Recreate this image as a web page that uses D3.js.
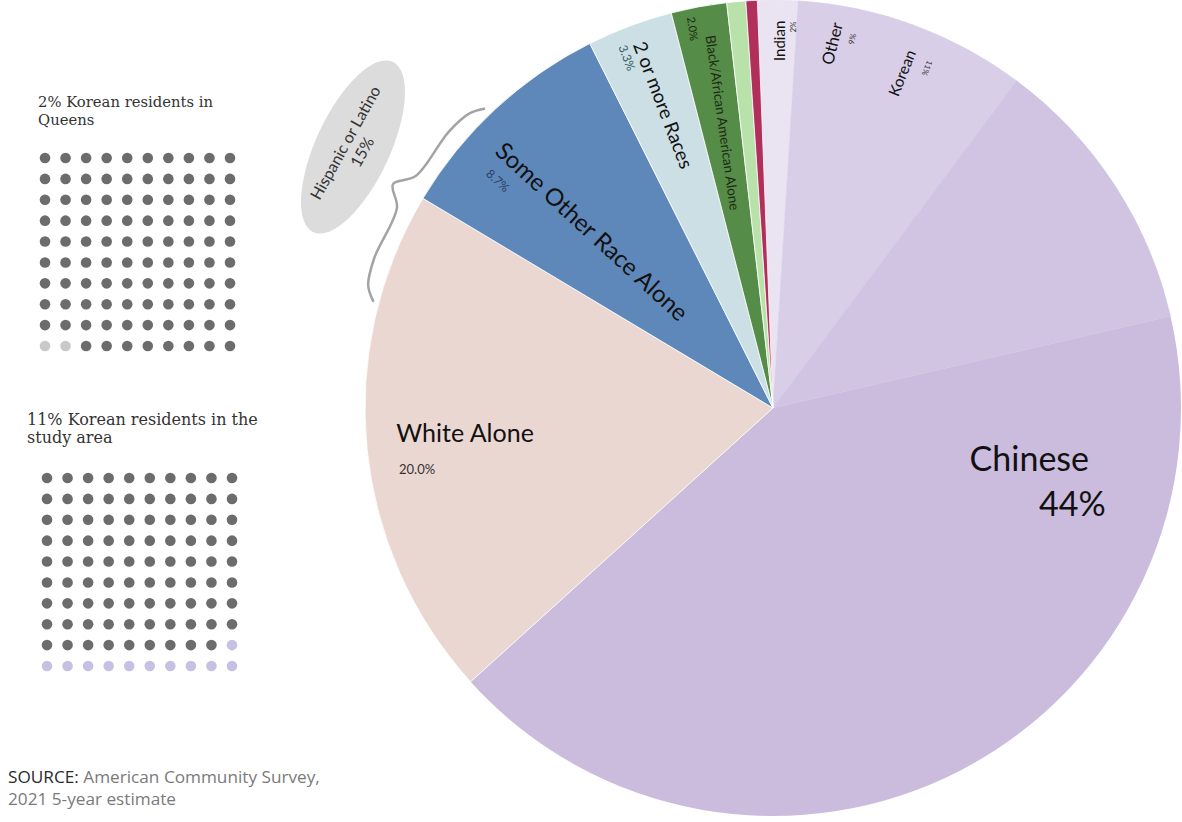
<!DOCTYPE html>
<html>
<head>
<meta charset="utf-8">
<script src="https://cdn.jsdelivr.net/npm/d3@7"></script>
<style>
  body { margin: 0; background: #fff; }
  svg { display: block; }
</style>
</head>
<body>
<svg id="chart" width="1182" height="822"></svg>
<script>
// Race / ethnicity shares of the study area (percent of total)
const categories = ["Indian", "Other", "Korean", "Chinese", "White Alone", "Some Other Race Alone",
  "2 or more Races", "Black/African American Alone", "American Indian Alone", "Native Hawaiian Alone"];
const values = [1.6, 9.2, 11.2, 41.9, 20.3, 9.0, 3.4, 2.2, 0.75, 0.45];
const sliceColors = ["#eae3f1", "#d8cee8", "#d0c4e2", "#cbbcde", "#ebd7d2", "#5f88ba",
  "#cbdfe5", "#558c47", "#b9e2aa", "#b02f5b"];

// waffle grids: 100 residents each, highlighted cells are Korean residents
const queensKorean = [90, 91];
const studyKorean = [89, 90, 91, 92, 93, 94, 95, 96, 97, 98, 99];

const svg = d3.select("#chart");
const cx = 773, cy = 408, R = 408;
const rad = d => d * Math.PI / 180;

// ---------- pie ----------
const startDeg = -2.2;
const pie = d3.pie()
  .sort(null)
  .value(d => d.value)
  .startAngle(rad(startDeg))
  .endAngle(rad(startDeg + 360));

const arc = d3.arc().innerRadius(0).outerRadius(R);

const data = categories.map((c, i) => ({ name: c, value: values[i], color: sliceColors[i] }));

const g = svg.append("g").attr("transform", `translate(${cx},${cy})`);

g.selectAll("path.slice")
  .data(pie(data))
  .enter()
  .append("path")
  .attr("class", "slice")
  .attr("d", arc)
  .attr("fill", d => d.data.color)
  .attr("stroke", d => (d.index < 3 ? d.data.color : d.index === 3 ? "none" : "#fff"))
  .attr("stroke-width", d => (d.index < 3 ? 0.5 : 0.8));

// labels inside the pie (angle in degrees from 12 o'clock, radius as share of R)
const sans = "Lato, 'Open Sans', sans-serif";
const labels = [
  { text: "Some Other Race Alone", angle: 314.5, r: 0.62, rot: 42.5, size: 24, fill: "#111" },
  { text: "8.7%", angle: 309.6, r: 0.875, rot: 42.5, size: 12, fill: "#2b3d63" },
  { text: "2 or more Races", angle: 340.2, r: 0.79, rot: 69, size: 19, fill: "#111" },
  { text: "3.3%", angle: 337.4, r: 0.93, rot: 69, size: 12, fill: "#3a5a66" },
  { text: "Black/African American Alone", angle: 350.0, r: 0.71, rot: 82, size: 13.5, fill: "#1d2a14" },
  { text: "2.0%", angle: 348.1, r: 0.95, rot: 82, size: 11, fill: "#1d2a14" },
  { text: "Indian", angle: 0.9, r: 0.9, rot: -90, size: 15, fill: "#111" },
  { text: "2%", angle: 3.0, r: 0.935, rot: -90, size: 8, fill: "#333" },
  { text: "Other", angle: 9.2, r: 0.905, rot: -76, size: 16.5, fill: "#111" },
  { text: "9%", angle: 12.1, r: 0.925, rot: -76, size: 8, fill: "#333" },
  { text: "Korean", angle: 21.0, r: 0.88, rot: -68, size: 15.5, fill: "#111" },
  { text: "11%", angle: 24.4, r: 0.915, rot: 112, size: 8, fill: "#333" },
  { text: "White Alone", angle: 265.5, r: 0.757, rot: 0, size: 25, fill: "#111" },
  { text: "20.0%", angle: 260.3, r: 0.885, rot: 0, size: 13, fill: "#333" },
  { text: "Chinese", angle: 101, r: 0.64, rot: 0, size: 34, fill: "#111" },
  { text: "44%", angle: 107.6, r: 0.77, rot: 0, size: 34, fill: "#111" }
];

g.selectAll("text.lbl")
  .data(labels)
  .enter()
  .append("text")
  .attr("class", "lbl")
  .attr("transform", d => {
    const p = d3.pointRadial(rad(d.angle), d.r * R);
    return `translate(${p[0]},${p[1]}) rotate(${d.rot})`;
  })
  .attr("text-anchor", "middle")
  .attr("dominant-baseline", "central")
  .attr("font-family", sans)
  .attr("font-size", d => d.size)
  .attr("fill", d => d.fill)
  .text(d => d.text);

// ---------- Hispanic or Latino brace + bubble ----------
const braceFrom = 285, braceTo = 316, braceR = R + 6;
const braceProfile = [[0, 0], [0.06, 9], [0.18, 12], [0.42, 12], [0.5, 27], [0.58, 12], [0.82, 12], [0.94, 9], [1, 2]];
const braceLine = d3.line().curve(d3.curveCatmullRom);
g.append("path")
  .attr("d", braceLine(braceProfile.map(([s, o]) =>
    d3.pointRadial(rad(braceFrom + s * (braceTo - braceFrom)), braceR + o))))
  .attr("fill", "none")
  .attr("stroke", "#a3a3a3")
  .attr("stroke-width", 2.5)
  .attr("stroke-linecap", "round");

const bubble = svg.append("g").attr("transform", "translate(353,147) rotate(25)");
bubble.append("ellipse")
  .attr("rx", 37)
  .attr("ry", 94)
  .attr("fill", "#dcdcdc");
const bubbleText = bubble.append("g").attr("transform", "rotate(-86)");
bubbleText.append("text")
  .attr("y", -3)
  .attr("text-anchor", "middle")
  .attr("font-family", sans)
  .attr("font-size", 16)
  .attr("fill", "#333")
  .text("Hispanic or Latino");
bubbleText.append("text")
  .attr("y", 16)
  .attr("text-anchor", "middle")
  .attr("font-family", sans)
  .attr("font-size", 16)
  .attr("fill", "#333")
  .text("15%");

// ---------- waffle grids ----------
const serif = "'DejaVu Serif', Georgia, serif";

function waffle(x0, y0, highlight, hiColor, title, tx, ty, size) {
  const t = svg.append("text")
    .attr("x", tx)
    .attr("y", ty)
    .attr("font-family", serif)
    .attr("font-size", size)
    .attr("fill", "#333");
  title.forEach((line, i) => {
    t.append("tspan").attr("x", tx).attr("dy", i ? 18 : 0).text(line);
  });

  const xs = d3.scalePoint().domain(d3.range(10)).range([x0, x0 + 185]);
  const ys = d3.scalePoint().domain(d3.range(10)).range([y0, y0 + 188]);
  svg.append("g")
    .selectAll("circle")
    .data(d3.range(100))
    .enter()
    .append("circle")
    .attr("cx", i => xs(i % 10))
    .attr("cy", i => ys(Math.floor(i / 10)))
    .attr("r", 5.3)
    .attr("fill", i => (highlight.includes(i) ? hiColor : "#6c6c6c"));
}

waffle(45, 158, queensKorean, "#c9c9c9", ["2% Korean residents in", "Queens"], 38, 107, 14.8);
waffle(47, 478, studyKorean, "#c6c1e2", ["11% Korean residents in the", "study area"], 27, 425, 16);

// ---------- source ----------
const src = svg.append("text")
  .attr("x", 8)
  .attr("y", 783)
  .attr("font-family", "'Open Sans', sans-serif")
  .attr("font-size", 17.2)
  .attr("fill", "#7a7a7a");
src.append("tspan").attr("fill", "#2a2a2a").text("SOURCE: ");
src.append("tspan").text("American Community Survey,");
svg.append("text")
  .attr("x", 8)
  .attr("y", 805)
  .attr("font-family", "'Open Sans', sans-serif")
  .attr("font-size", 17.2)
  .attr("fill", "#7a7a7a")
  .text("2021 5-year estimate");
</script>
</body>
</html>
